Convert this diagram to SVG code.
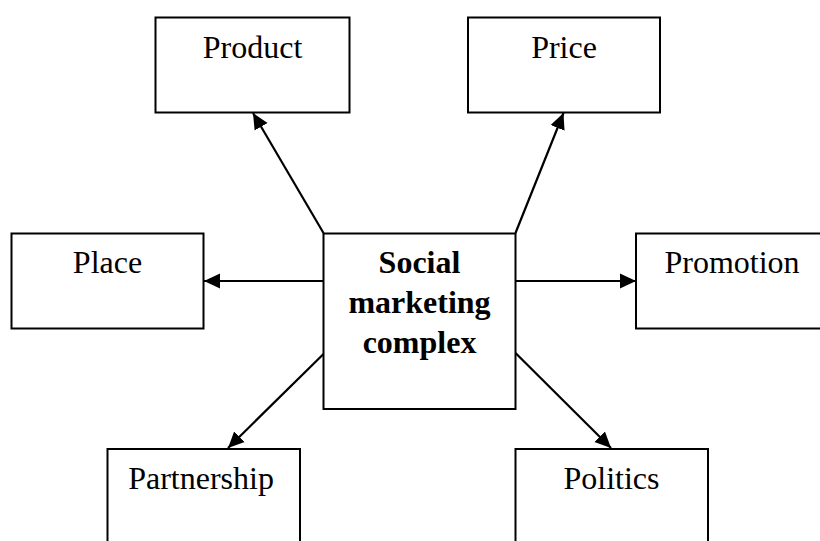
<svg xmlns="http://www.w3.org/2000/svg" width="820" height="541" viewBox="0 0 820 541">
<style>
.box{fill:#fff;stroke:#000;stroke-width:2}
.lbl{font-family:"Liberation Serif","Times New Roman",serif;font-size:32px;fill:#000;text-anchor:middle}
.bold{font-weight:bold}
.conn{stroke:#000;stroke-width:2.2;fill:none;marker-end:url(#arr)}
</style>
<defs>
<marker id="arr" markerUnits="userSpaceOnUse" markerWidth="16" markerHeight="16" refX="16" refY="8" orient="auto">
<path d="M0,0.5 L16,8 L0,15.5 z" fill="#000"/>
</marker>
</defs>
<rect width="820" height="541" fill="#fff"/>
<g id="connectors">
<line class="conn" x1="323.5" y1="233" x2="253" y2="113"/>
<line class="conn" x1="515.5" y1="233" x2="563.5" y2="113"/>
<line class="conn" x1="323.5" y1="281" x2="204" y2="281"/>
<line class="conn" x1="515.5" y1="281" x2="636" y2="281"/>
<line class="conn" x1="323.5" y1="354" x2="228" y2="448"/>
<line class="conn" x1="515.5" y1="353" x2="611" y2="448"/>
</g>
<g id="center">
<rect class="box" x="323.5" y="233.5" width="192" height="175.5"/>
<text class="lbl bold" x="419.5" y="273">Social</text>
<text class="lbl bold" x="419.5" y="313">marketing</text>
<text class="lbl bold" x="419.5" y="353">complex</text>
</g>
<g id="product">
<rect class="box" x="155.5" y="17.5" width="194" height="95"/>
<text class="lbl" x="252.5" y="58">Product</text>
</g>
<g id="price">
<rect class="box" x="468" y="17.5" width="192" height="95"/>
<text class="lbl" x="564" y="58">Price</text>
</g>
<g id="place">
<rect class="box" x="11.5" y="233.5" width="192" height="95"/>
<text class="lbl" x="107.5" y="273">Place</text>
</g>
<g id="promotion">
<rect class="box" x="636" y="233.5" width="192" height="95"/>
<text class="lbl" x="732" y="273">Promotion</text>
</g>
<g id="partnership">
<rect class="box" x="107.5" y="449" width="192.5" height="100"/>
<text class="lbl" x="201" y="489">Partnership</text>
</g>
<g id="politics">
<rect class="box" x="515.5" y="449" width="192.5" height="100"/>
<text class="lbl" x="611.5" y="489">Politics</text>
</g>
</svg>
